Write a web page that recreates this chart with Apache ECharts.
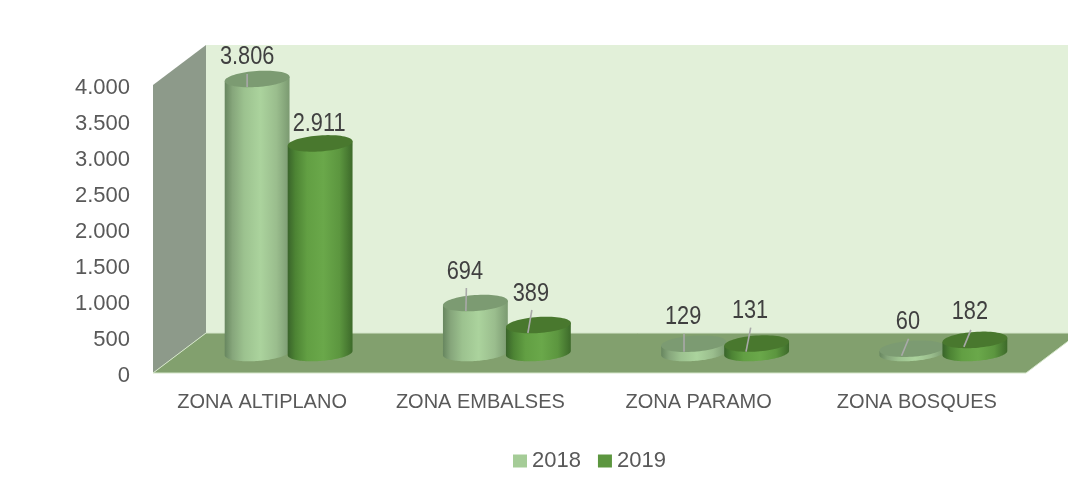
<!DOCTYPE html>
<html><head><meta charset="utf-8">
<style>html,body{margin:0;padding:0;background:#fff}#c{width:1068px;height:493px}</style>
<script src="https://cdn.jsdelivr.net/npm/echarts@6/dist/echarts.min.js"></script>
</head><body><div id="c"></div>
<script>
const categories = ['ZONA ALTIPLANO','ZONA EMBALSES','ZONA PARAMO','ZONA BOSQUES'];
const values2018 = [3806, 694, 129, 60];
const values2019 = [2911, 389, 131, 182];
const yTicks = {min:0, max:4000, interval:500};

// Layout only: label centre and leader line, relative to the top centre of each cylinder
const notes2018 = [
  {l:[-10,-22], a:[-10,-5], b:[-10,8]},
  {l:[-10.5,-31], a:[-9,-15], b:[-9.5,8]},
  {l:[-10.5,-27], a:[-9.6,-10], b:[-9.6,8]},
  {l:[-4,-27], a:[-3.3,-10], b:[-10.3,7]}
];
const notes2019 = [
  {l:[-1,-19]},
  {l:[-7.5,-31], a:[-6.5,-15], b:[-10.5,8]},
  {l:[-6.6,-32], a:[-5.9,-16], b:[-10.6,8]},
  {l:[-5,-28], a:[-4,-10], b:[-11,7]}
];
const DEPTH_X = 53, DEPTH_Y = -40, RX = 32.5, RY = 8, TILT = -4 * Math.PI / 180;
const FONT = 'Liberation Sans, sans-serif';
const G = echarts.graphic;
const skin2018 = {top:'#7c9b72', stops:[[0,'#67865f'],[0.12,'#86a67b'],[0.3,'#9cc28f'],[0.55,'#abd39d'],[0.8,'#9abd8d'],[1,'#7b9a71']]};
const skin2019 = {top:'#49782e', stops:[[0,'#39642a'],[0.12,'#4d8434'],[0.3,'#629f43'],[0.55,'#6aa84a'],[0.8,'#5c963f'],[1,'#3d6a2a']]};
const thousands = v => v>=1000 ? String(v).replace(/(\d)(\d{3})$/,'$1.$2') : String(v);

function arc(cx, cy, from, to, n){
  const pts=[];
  for(let i=0;i<=n;i++){
    const t=from+(to-from)*i/n, x=RX*Math.cos(t), y=RY*Math.sin(t);
    pts.push([cx+x*Math.cos(TILT)-y*Math.sin(TILT), cy+x*Math.sin(TILT)+y*Math.cos(TILT)]);
  }
  return pts;
}
function cylinder(skin, notes, side){
  return function(params, api){
    const i=api.value(0), v=api.value(1);
    const front=api.coord([i,0]), head=api.coord([i,v]);
    const cx=front[0]+DEPTH_X/2+side*31.5, yBase=front[1]+DEPTH_Y/2, yTop=head[1]+DEPTH_Y/2;
    const body=arc(cx,yTop,Math.PI,Math.PI,1).concat(arc(cx,yBase,Math.PI,0,60),arc(cx,yTop,0,0,1));
    const kids=[
      {type:'polygon',shape:{points:body},style:{fill:new G.LinearGradient(0,0,1,0,skin.stops.map(s=>({offset:s[0],color:s[1]})))}},
      {type:'polygon',shape:{points:arc(cx,yTop,0,Math.PI*2,72)},style:{fill:skin.top}}
    ];
    const n=notes[i];
    if(n.a) kids.push({type:'line',shape:{x1:cx+n.a[0],y1:yTop+n.a[1],x2:cx+n.b[0],y2:yTop+n.b[1]},style:{stroke:'#a9a9a9',lineWidth:1.6}});
    kids.push({type:'text',x:cx+n.l[0],y:yTop+n.l[1],scaleX:0.87,style:{text:thousands(v),fill:'#404040',font:'25px '+FONT,textAlign:'center',textVerticalAlign:'middle'}});
    return {type:'group',children:kids};
  };
}
function room(params){
  const c=params.coordSys, x0=c.x, x1=c.x+c.width, y0=c.y+c.height, yT=c.y, dx=DEPTH_X, dy=DEPTH_Y;
  return {type:'group',silent:true,children:[
    {type:'polygon',shape:{points:[[x0+dx,yT+dy],[x1+dx,yT+dy],[x1+dx,y0+dy],[x0+dx,y0+dy]]},style:{fill:'#e2f0d9'}},
    {type:'polygon',shape:{points:[[x0,yT],[x0+dx,yT+dy],[x0+dx,y0+dy],[x0,y0]]},style:{fill:'#8d9a8a'}},
    {type:'polygon',shape:{points:[[x0,y0],[x1,y0],[x1+dx,y0+dy],[x0+dx,y0+dy]]},style:{fill:'#82a06e',stroke:'#d5e6ca',lineWidth:1}}
  ]};
}
const chart=echarts.init(document.getElementById('c'),null,{renderer:'canvas'});
chart.setOption({
  animation:false,
  backgroundColor:'#fff',
  grid:{left:153,right:42,top:85,bottom:120,containLabel:false},
  xAxis:{type:'category',data:categories,axisLine:{show:false},axisTick:{show:false},splitLine:{show:false},
    axisLabel:{color:'#595959',fontFamily:FONT,fontSize:20,margin:19,interval:0}},
  yAxis:{type:'value',min:yTicks.min,max:yTicks.max,interval:yTicks.interval,axisLine:{show:false},axisTick:{show:false},splitLine:{show:false},
    axisLabel:{color:'#595959',fontFamily:FONT,fontSize:22,margin:23,verticalAlign:'top',lineHeight:6,formatter:thousands}},
  legend:{data:['2018','2019'],left:508,top:445,icon:'rect',itemWidth:14,itemHeight:13,itemGap:17,
    textStyle:{color:'#595959',fontFamily:FONT,fontSize:22},selectedMode:false},
  series:[
    {type:'custom',name:'room',silent:true,z:1,data:[[0,0]],encode:{x:0,y:1},renderItem:room,clip:false},
    {type:'custom',name:'2018',z:2,data:values2018.map((v,i)=>[i,v]),encode:{x:0,y:1},itemStyle:{color:'#a5cc97'},renderItem:cylinder(skin2018,notes2018,-1),clip:false},
    {type:'custom',name:'2019',z:3,data:values2019.map((v,i)=>[i,v]),encode:{x:0,y:1},itemStyle:{color:'#5c963f'},renderItem:cylinder(skin2019,notes2019,1),clip:false}
  ]
});
</script></body></html>
